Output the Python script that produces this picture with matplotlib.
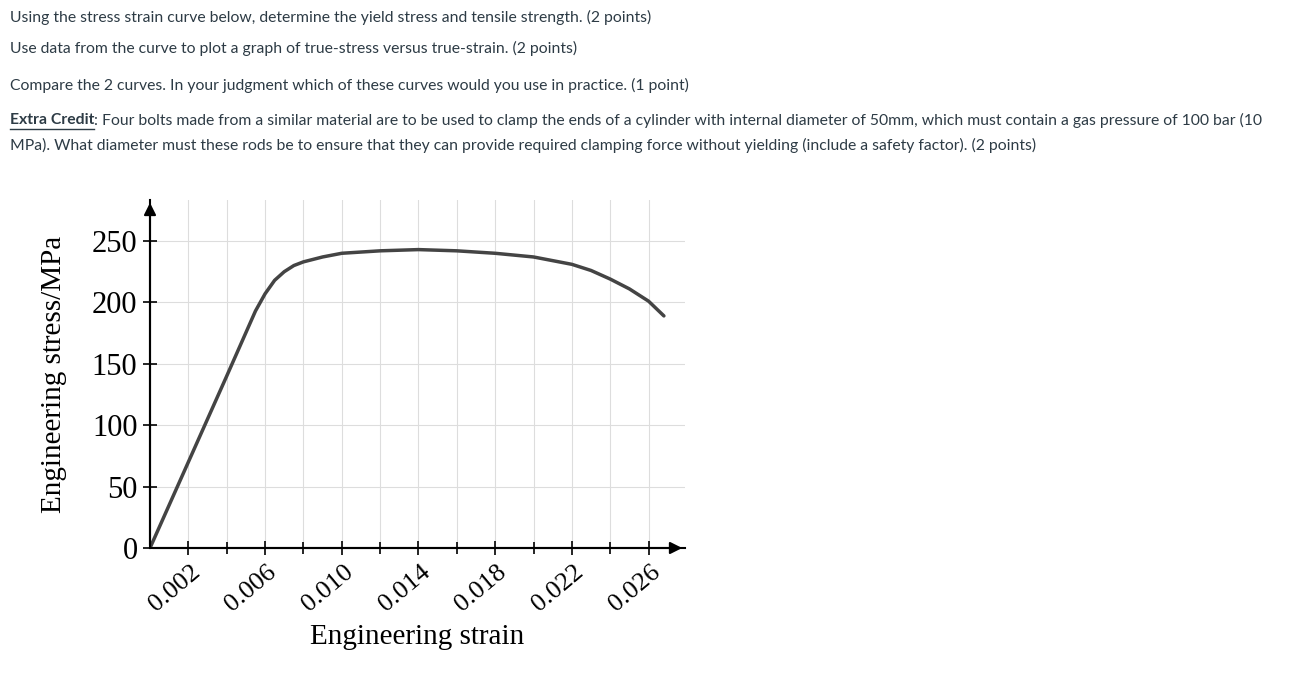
import matplotlib
matplotlib.use("Agg")
import matplotlib.pyplot as plt
import numpy as np

strain = [0.0, 0.002, 0.004, 0.0055, 0.006, 0.0065, 0.007, 0.0075, 0.008, 0.009, 0.010, 0.012, 0.014, 0.016, 0.018, 0.020, 0.021, 0.022, 0.023, 0.024, 0.025, 0.026, 0.0268]
stress = [0, 70, 140, 193, 207, 218, 225, 230, 233, 237, 240, 242, 243, 242, 240, 237, 234, 231, 226, 219, 211, 201, 189]
xticks = [0.002, 0.006, 0.010, 0.014, 0.018, 0.022, 0.026]
xminor = [0.004, 0.008, 0.012, 0.016, 0.020, 0.024]
yticks = [0, 50, 100, 150, 200, 250]

fig = plt.figure(figsize=(13.01, 6.87), dpi=100)
fs = 11.3
col = "#2d3b45"
lines = [
    (17, "Using the stress strain curve below, determine the yield stress and tensile strength. (2 points)"),
    (48, "Use data from the curve to plot a graph of true-stress versus true-strain. (2 points)"),
    (85, "Compare the 2 curves. In your judgment which of these curves would you use in practice. (1 point)"),
    (145, "MPa). What diameter must these rods be to ensure that they can provide required clamping force without yielding (include a safety factor). (2 points)"),
]
for y, t in lines:
    fig.text(10/1301, 1 - y/687, t, fontsize=fs, family="Lato", va="center", color=col)
fig.text(10/1301, 1 - 120/687, "Extra Credit", fontsize=fs, family="Lato", va="center",
         color=col, weight="bold")
fig.add_artist(plt.Line2D([10/1301, 94/1301], [1-129/687, 1-129/687], color=col, lw=1))
fig.text(94/1301, 1 - 120/687, ": Four bolts made from a similar material are to be used to clamp the ends of a cylinder with internal diameter of 50mm, which must contain a gas pressure of 100 bar (10",
         fontsize=fs, family="Lato", va="center", color=col)

x0, x1 = 150/1301, 685/1301
y0, y1 = 1 - 548/687, 1 - 200/687
ax = fig.add_axes([x0, y0, x1 - x0, y1 - y0])
ax.set_xlim(0, 0.0279)
ax.set_ylim(0, 250 + (241 - 200) / 1.228)
ax.plot(strain, stress, color="#444444", lw=2.5, solid_capstyle="round")
for s in ["top", "right"]:
    ax.spines[s].set_visible(False)
ax.spines["left"].set_linewidth(1.5)
ax.spines["bottom"].set_linewidth(1.5)
ax.annotate("", xy=(0.0, ax.get_ylim()[1]), xytext=(0, 0),
            arrowprops=dict(arrowstyle="-|>", color="black", lw=1.5, mutation_scale=18))
ax.annotate("", xy=(0.0279, 0), xytext=(0, 0),
            arrowprops=dict(arrowstyle="-|>", color="black", lw=1.5, mutation_scale=18))
for xv in xticks + xminor:
    ax.axvline(xv, color="#dddddd", lw=0.8, zorder=0)
for yv in yticks[1:]:
    ax.axhline(yv, color="#dddddd", lw=0.8, zorder=0)
serif = "Liberation Serif"
ax.set_xticks(xticks)
ax.set_xticks(xminor, minor=True)
ax.set_xticklabels([f"{v:.3f}" for v in xticks], rotation=40, ha="center", va="top",
                   rotation_mode="default", fontsize=19, family=serif)
ax.set_yticks(yticks)
ax.set_yticklabels([str(v) for v in yticks], fontsize=22, family=serif)
ax.tick_params(axis="both", direction="inout", length=10, width=1.2, pad=4)
ax.tick_params(axis="x", which="minor", direction="inout", length=8, width=1.2)
for lab in ax.get_xticklabels():
    lab.set_x(lab.get_position()[0])
from matplotlib.transforms import ScaledTranslation
off = ScaledTranslation(-14/100, 0, fig.dpi_scale_trans)
for lab in ax.get_xticklabels():
    lab.set_transform(lab.get_transform() + off)
ax.set_xlabel("Engineering strain", fontsize=21, family=serif, labelpad=6)
ax.set_ylabel("Engineering stress/MPa", fontsize=21, family=serif, labelpad=18)
fig.savefig("out.png", dpi=100)
